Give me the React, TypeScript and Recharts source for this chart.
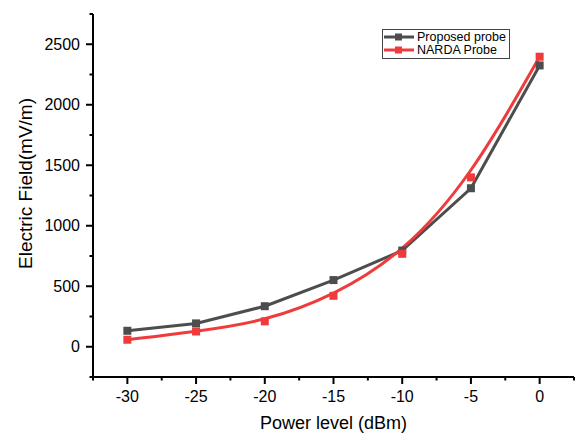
import React from 'react';
import { LineChart, Line, XAxis, YAxis, Legend } from 'recharts';

const POWER_LEVELS = [-30, -25, -20, -15, -10, -5, 0];
const PROPOSED_PROBE = [132, 193, 335, 551, 795, 1310, 2325];
const NARDA_PROBE = [58, 126, 210, 421, 768, 1400, 2397];

const X_TICKS = [-32.5, -30, -27.5, -25, -22.5, -20, -17.5, -15, -12.5, -10, -7.5, -5, -2.5, 0, 2.5];
const Y_TICKS = [-250, 0, 250, 500, 750, 1000, 1250, 1500, 1750, 2000, 2250, 2500, 2750];

const SERIES_NAMES = ['Proposed probe', 'NARDA Probe'];
const GRAY = '#4d4d4d';
const RED = '#ef3b3b';
const FONT = '"Liberation Sans", Arial, Helvetica, sans-serif';

const data = POWER_LEVELS.map((p, i) => ({
  power: p,
  proposed: PROPOSED_PROBE[i],
  narda: NARDA_PROBE[i],
}));

const isMajorX = (v: number) => v % 5 === 0 && v >= -30 && v <= 0;
const isMajorY = (v: number) => v % 500 === 0 && v >= 0 && v <= 2500;

const BottomTick = (props: any) => {
  const { x, y, payload } = props;
  const major = isMajorX(payload.value);
  return (
    <g>
      <line x1={x} x2={x} y1={y} y2={y + (major ? 7 : 3.5)} stroke="#000" strokeWidth={2} />
      {major && (
        <text x={x} y={y + 14} dy="0.71em" textAnchor="middle" fontSize={16} fontFamily={FONT} fill="#000">
          {payload.value}
        </text>
      )}
    </g>
  );
};

const TopTick = (props: any) => {
  const { x, y, payload } = props;
  const major = isMajorX(payload.value);
  return <line x1={x} x2={x} y1={y} y2={y + (major ? 7 : 3.5)} stroke="#000" strokeWidth={2} />;
};

const LeftTick = (props: any) => {
  const { x, y, payload } = props;
  const major = isMajorY(payload.value);
  return (
    <g>
      <line x1={x - (major ? 7 : 3.5)} x2={x} y1={y} y2={y} stroke="#000" strokeWidth={2} />
      {major && (
        <text x={x - 13} y={y} dy="0.355em" textAnchor="end" fontSize={16} fontFamily={FONT} fill="#000">
          {payload.value}
        </text>
      )}
    </g>
  );
};

const RightTick = (props: any) => {
  const { x, y, payload } = props;
  const major = isMajorY(payload.value);
  return <line x1={x - (major ? 7 : 3.5)} x2={x} y1={y} y2={y} stroke="#000" strokeWidth={2} />;
};

const SquareDot = (color: string) => (props: any) => {
  const { cx, cy, index } = props;
  if (cx == null || cy == null) return <g key={index} />;
  return <rect key={index} x={cx - 4} y={cy - 4} width={8} height={8} fill={color} />;
};

const LegendBox = () => (
  <svg width={128} height={30} style={{ display: 'block' }}>
    <rect x={0.5} y={0.5} width={127} height={29} fill="#fff" stroke="#444" strokeWidth={1} />
    <line x1={2} x2={32} y1={8} y2={8} stroke={GRAY} strokeWidth={3} />
    <rect x={13} y={4.5} width={7} height={7} fill={GRAY} />
    <text x={35} y={8} dy="0.355em" fontSize={12.5} fontFamily={FONT} fill="#000">{SERIES_NAMES[0]}</text>
    <line x1={2} x2={32} y1={21} y2={21} stroke={RED} strokeWidth={3} />
    <rect x={13} y={17.5} width={7} height={7} fill={RED} />
    <text x={35} y={21} dy="0.355em" fontSize={12.5} fontFamily={FONT} fill="#000">{SERIES_NAMES[1]}</text>
  </svg>
);

const axisLineStyle = { stroke: '#000', strokeWidth: 2 };

export default function App() {
  return (
    <div style={{ position: 'absolute', left: 0, top: 0, width: 583, height: 433, background: '#fff' }}>
      <LineChart width={583} height={433} data={data} margin={{ top: 14, right: 9, left: 0, bottom: 0 }}>
        <XAxis
          dataKey="power"
          type="number"
          domain={[-32.5, 2.5]}
          ticks={X_TICKS}
          interval={0}
          allowDataOverflow
          height={56}
          tickSize={0}
          tickMargin={0}
          tickLine={false}
          axisLine={axisLineStyle}
          tick={<BottomTick />}
          label={{
            value: 'Power level (dBm)',
            position: 'insideBottom',
            offset: 4,
            fontSize: 18,
            fontFamily: FONT,
            fill: '#000',
          }}
        />
        <XAxis
          xAxisId="top"
          orientation="top"
          dataKey="power"
          type="number"
          domain={[-32.5, 2.5]}
          ticks={X_TICKS}
          interval={0}
          allowDataOverflow
          height={0}
          tickSize={0}
          tickMargin={0}
          tickLine={false}
          axisLine={axisLineStyle}
          tick={<TopTick />}
        />
        <YAxis
          type="number"
          domain={[-250, 2750]}
          ticks={Y_TICKS}
          interval={0}
          allowDataOverflow
          width={93}
          tickSize={0}
          tickMargin={0}
          tickLine={false}
          axisLine={axisLineStyle}
          tick={<LeftTick />}
          label={{
            value: 'Electric Field(mV/m)',
            angle: -90,
            position: 'insideLeft',
            offset: 25,
            dy: -12,
            fontSize: 19,
            fontFamily: FONT,
            fill: '#000',
            textAnchor: 'middle',
          }}
        />
        <YAxis
          yAxisId="right"
          orientation="right"
          type="number"
          domain={[-250, 2750]}
          ticks={Y_TICKS}
          interval={0}
          allowDataOverflow
          width={0}
          tickSize={0}
          tickMargin={0}
          tickLine={false}
          axisLine={axisLineStyle}
          tick={<RightTick />}
        />
        <Legend
          verticalAlign="middle"
          align="center"
          layout="horizontal"
          wrapperStyle={{ left: 382, top: 29, width: 128, height: 30 }}
          content={() => <LegendBox />}
        />
        <Line
          type="linear"
          dataKey="proposed"
          name={SERIES_NAMES[0]}
          stroke={GRAY}
          strokeWidth={3}
          dot={SquareDot(GRAY)}
          isAnimationActive={false}
        />
        <Line
          type="basis"
          dataKey="narda"
          name={SERIES_NAMES[1]}
          stroke={RED}
          strokeWidth={3}
          dot={SquareDot(RED)}
          isAnimationActive={false}
        />
      </LineChart>
    </div>
  );
}
